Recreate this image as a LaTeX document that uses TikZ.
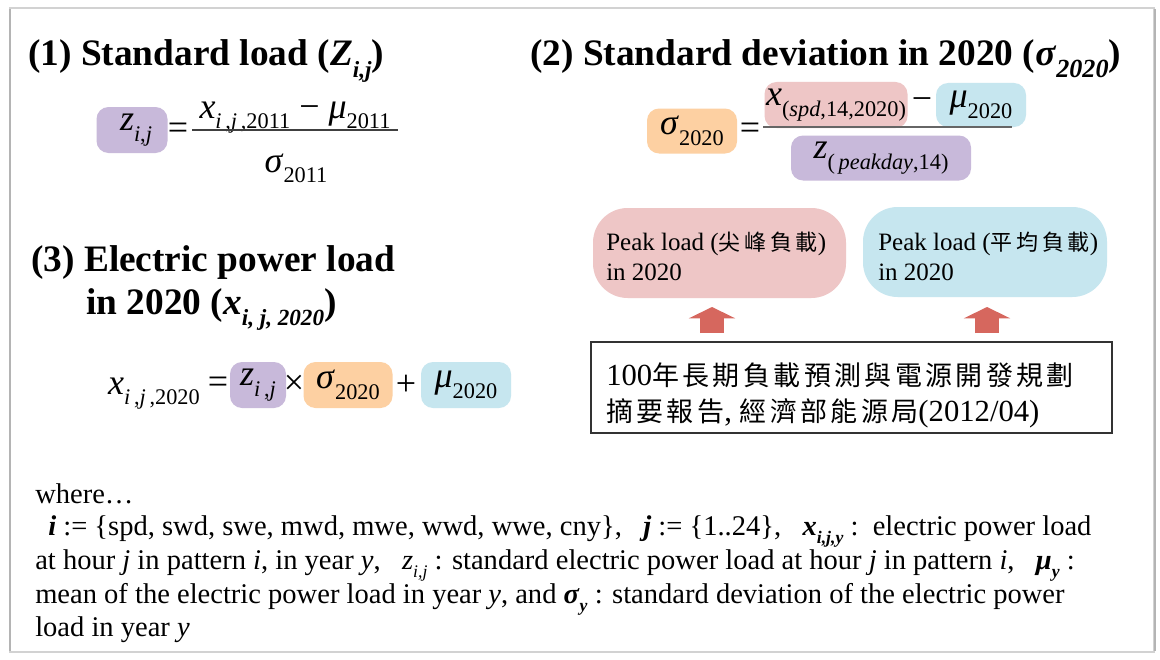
\documentclass[tikz,border=0pt]{standalone}
\usepackage{fontspec}
\usepackage{graphicx}
\setmainfont{Liberation Serif}
\newfontfamily\cjk[Scale=0.88]{Noto Sans CJK TC}
\usetikzlibrary{arrows.meta}

\definecolor{lav}{HTML}{C8B9DA}
\definecolor{peach}{HTML}{FDD0A2}
\definecolor{rose}{HTML}{EEC6C6}
\definecolor{sky}{HTML}{C6E6EF}
\definecolor{arrowred}{HTML}{D6675E}
\definecolor{framegray}{HTML}{B4B4B4}

% font sizes
\newcommand\titlefont{\fontsize{28pt}{32pt}\selectfont\bfseries}
\newcommand\eqfont{\fontsize{27pt}{30pt}\selectfont}
\newcommand\peakfont{\fontsize{18.75pt}{22.5pt}\selectfont}
\newcommand\srcfont{\fontsize{23pt}{27pt}\selectfont}
\newcommand\notefont{\fontsize{21.4pt}{25pt}\selectfont}

% subscripts and italic symbols
\newcommand\sbs[1]{\raisebox{-0.3em}{\scalebox{0.62}{#1}}}
\newcommand\tsbs[1]{\raisebox{-0.3em}{\scalebox{0.7}{#1}}}
\newcommand\mi[1]{\textit{#1}}
\newcommand\bi[1]{\textbf{\textit{#1}}}
\newcommand\gap{\hspace{0.75em}}

% CJK run with a small gap between characters
\makeatletter
\newcommand\spread[2]{\begingroup\cjk\let\sp@first\relax
  \@tfor\sp@c:=#2\do{\ifx\sp@first\relax\let\sp@first\empty\else\hspace{#1}\fi\sp@c}\endgroup}
\makeatother

\tikzset{
  hl/.style={rounded corners=9pt, inner sep=0pt, font=\eqfont},
  eqtxt/.style={inner sep=0pt, font=\eqfont},
  title/.style={inner sep=0pt, anchor=base west, font=\titlefont},
  peakbox/.style={rounded corners=26pt, inner sep=0pt, minimum width=253*0.75pt,
    minimum height=90*0.75pt},
  peaktxt/.style={inner sep=0pt, anchor=base west, font=\peakfont},
  srcbox/.style={draw=black!80, line width=2.2pt, fill=white, minimum width=521*0.75pt,
    minimum height=91*0.75pt, inner sep=0pt},
  srctxt/.style={inner sep=0pt, anchor=base west, font=\srcfont},
  note/.style={inner sep=0pt, anchor=base west, font=\notefont},
  fracline/.style={line width=1.4pt, draw=black!75},
  uparrow/.style={draw=arrowred, line width=18pt,
    -{Triangle[width=34.5pt,length=8.5pt]}},
}

\begin{document}
\begin{tikzpicture}[x=0.75pt,y=-0.75pt]
\useasboundingbox (0,0) rectangle (1160,660);
\fill[white] (0,0) rectangle (1160,660);

% sheet frame with a soft edge
\draw[framegray!60, line width=0.8pt] (10,8) rectangle (1154,652);
\draw[framegray, line width=2pt] (10,9) -- (10,651);
\draw[framegray, line width=2pt] (1155,9) -- (1155,651);

% ---- (1) standard load
\node[title] (t1) at (28,66) {(1) Standard load (\bi{Z}\sbs{\bi{i,j}})};
\node[hl, fill=lav, minimum width=71*0.75pt, minimum height=46*0.75pt] (z1) at (132,130)
  {\hspace{6pt}\mi{z}\sbs{\mi{i},\mi{j}}};
\node[eqtxt] (eq1) at (178,131) {=};
\node[eqtxt, anchor=base] (num1) at (295,118)
  {\mi{x}\sbs{\mi{i}\,,\mi{j}\,,2011} − \mi{μ}\sbs{2011}};
\coordinate (f1a) at (192,130);
\coordinate (f1b) at (398,130);
\draw[fracline] (f1a) -- (f1b);
\node[eqtxt, anchor=base] (den1) at (296,172) {\mi{σ}\sbs{2011}};

% ---- (2) standard deviation in 2020
\node[title] (t2) at (530,66) {(2) Standard deviation in 2020 (\bi{σ}\tsbs{\bi{2020}})};
\node[hl, fill=peach, minimum width=90*0.75pt, minimum height=45*0.75pt] (s2) at (692,131)
  {\mi{σ}\sbs{2020}};
\node[eqtxt] (eq2) at (750,131) {=};
\node[hl, fill=rose, minimum width=143*0.75pt, minimum height=46*0.75pt] (xs) at (836,105)
  {\mi{x}\sbs{(\mi{spd},14,2020)}};
\node[eqtxt] (mi2) at (922,104) {−};
\node[hl, fill=sky, minimum width=90*0.75pt, minimum height=44*0.75pt] (mu2) at (981,105)
  {\mi{μ}\sbs{2020}};
\coordinate (f2a) at (763,127);
\coordinate (f2b) at (1012,127);
\draw[fracline, draw=black!60, line width=1.8pt] (f2a) -- (f2b);
\node[hl, fill=lav, minimum width=180*0.75pt, minimum height=45*0.75pt] (zp) at (881,158)
  {\mi{z}\sbs{(\,\mi{peakday},14)}};

% ---- (3) electric power load in 2020
\node[title] (t3a) at (31,271) {(3) Electric power load};
\node[title] (t3b) at (86,314) {in 2020 (\bi{x}\sbs{\bi{i, j, 2020}})};
\node[eqtxt, anchor=base east] (x3) at (200,394) {\mi{x}\sbs{\mi{i}\,,\mi{j}\,,2020}};
\node[eqtxt] (eq3) at (218,385) {=};
\node[hl, fill=lav, minimum width=56*0.75pt, minimum height=46*0.75pt] (z3) at (258,385)
  {\mi{z}\sbs{\mi{i}\,,\mi{j}}};
\node[eqtxt] (tm3) at (294,385) {×};
\node[hl, fill=peach, minimum width=89*0.75pt, minimum height=46*0.75pt] (s3) at (348,385)
  {\mi{σ}\sbs{2020}};
\node[eqtxt] (pl3) at (406,385) {+};
\node[hl, fill=sky, minimum width=90*0.75pt, minimum height=46*0.75pt] (m3) at (466,385)
  {\mi{μ}\sbs{2020}};

% ---- peak load boxes and their source
\node[peakbox, fill=rose] (pk1) at (719.5,253) {};
\node[peaktxt] (pk1a) at (606,250) {Peak load (\spread{0.17em}{尖峰負載})};
\node[peaktxt] (pk1b) at (606,280) {in 2020};
\node[peakbox, fill=sky, minimum width=244*0.75pt] (pk2) at (985,252) {};
\node[peaktxt] (pk2a) at (878,250) {Peak load (\spread{0.17em}{平均負載})};
\node[peaktxt] (pk2b) at (878,280) {in 2020};

\node[srcbox] (src) at (851.5,387.5) {};
\node[srctxt] (src1) at (606,385) {100\spread{0.125em}{年長期負載預測與電源開發規劃}};
\node[srctxt] (src2) at (606,421) {\spread{0.125em}{摘要報告}, \spread{0.125em}{經濟部能源局}(2012/04)};

\coordinate (a1s) at (712,333);
\coordinate (a1e) at (712,307);
\coordinate (a2s) at (987,333);
\coordinate (a2e) at (987,307);
\draw[uparrow] (a1s) -- (a1e);
\draw[uparrow] (a2s) -- (a2e);

% ---- notation
\node[note] (n0) at (35,503) {where…};
\node[note] (n1) at (48,535) {\bi{i} := \{spd, swd, swe, mwd, mwe, wwd, wwe, cny\},\gap\bi{j} := \{1..24\},\gap\bi{x}\sbs{\bi{i,j,y}} :\ \ electric power load};
\node[note] (n2) at (35,569) {at hour \mi{j} in pattern \mi{i}, in year \mi{y},\gap\mi{z}\sbs{\mi{i,j}} : standard electric power load at hour \mi{j} in pattern \mi{i},\gap\textbf{\mi{μ}}\sbs{\bi{y}} :};
\node[note] (n3) at (35,603) {mean of the electric power load in year \mi{y}, and \bi{σ}\sbs{\bi{y}} : standard deviation of the electric power};
\node[note] (n4) at (35,636) {load in year \mi{y}};
\end{tikzpicture}
\end{document}
